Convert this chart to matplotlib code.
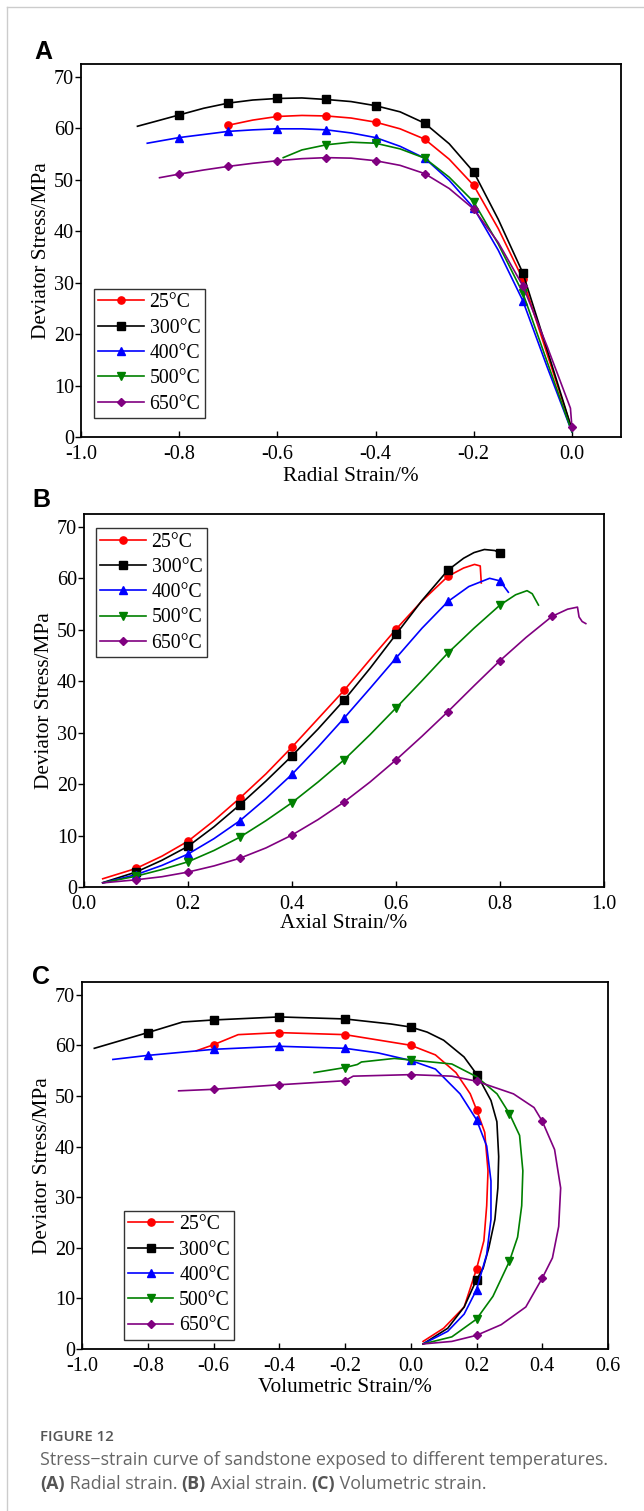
import matplotlib
matplotlib.use("Agg")
import matplotlib.pyplot as plt
from matplotlib.lines import Line2D

plt.rcParams["font.family"] = ["Liberation Serif", "DejaVu Serif"]
plt.rcParams["axes.unicode_minus"] = False

# Legend / series setup
labels = ["25\u00b0C", "300\u00b0C", "400\u00b0C", "500\u00b0C", "650\u00b0C"]
colors = ["#ff0000", "#000000", "#0000ff", "#008000", "#800080"]
markers = ["o", "s", "^", "v", "D"]

# ---- Panel A: radial strain ----
a25_x = [-0.70, -0.65, -0.60, -0.55, -0.50, -0.45, -0.40, -0.35, -0.30, -0.25, -0.20, -0.15, -0.10, -0.05, 0.00]
a25_y = [60.6, 61.6, 62.3, 62.5, 62.4, 62.0, 61.2, 59.9, 57.9, 54.0, 48.9, 40.5, 30.7, 16.0, 1.5]
a300_x = [-0.885, -0.85, -0.80, -0.75, -0.70, -0.65, -0.60, -0.55, -0.50, -0.45, -0.40, -0.35, -0.30, -0.25, -0.20, -0.15, -0.10, -0.05, 0.00]
a300_y = [60.4, 61.3, 62.6, 63.9, 64.9, 65.5, 65.8, 65.9, 65.6, 65.2, 64.4, 63.2, 61.0, 57.0, 51.5, 42.3, 31.9, 16.8, 1.5]
a400_x = [-0.865, -0.80, -0.75, -0.70, -0.65, -0.60, -0.55, -0.50, -0.45, -0.40, -0.35, -0.30, -0.25, -0.20, -0.15, -0.10, -0.05, 0.00]
a400_y = [57.1, 58.2, 58.8, 59.4, 59.7, 59.9, 59.9, 59.7, 59.1, 58.2, 56.5, 54.2, 49.9, 44.5, 36.3, 26.5, 13.5, 1.0]
a500_x = [-0.588, -0.55, -0.50, -0.45, -0.40, -0.35, -0.30, -0.25, -0.20, -0.15, -0.10, -0.05, 0.00]
a500_y = [54.3, 55.8, 56.8, 57.3, 57.1, 56.0, 54.2, 50.5, 45.7, 37.5, 28.0, 14.5, 1.0]
a650_x = [-0.84, -0.80, -0.75, -0.70, -0.65, -0.60, -0.55, -0.50, -0.45, -0.40, -0.35, -0.30, -0.25, -0.20, -0.15, -0.10, -0.05, -0.003, 0.00]
a650_y = [50.4, 51.1, 51.9, 52.6, 53.2, 53.7, 54.1, 54.3, 54.2, 53.7, 52.8, 51.2, 48.3, 44.3, 37.8, 29.4, 17.5, 5.6, 2.0]

a25_mx = [-0.7, -0.6, -0.5, -0.4, -0.3, -0.2, -0.1]
a25_my = [60.6, 62.3, 62.4, 61.2, 57.9, 48.9, 30.7]
a300_mx = [-0.8, -0.7, -0.6, -0.5, -0.4, -0.3, -0.2, -0.1]
a300_my = [62.6, 64.9, 65.8, 65.6, 64.4, 61.0, 51.5, 31.9]
a400_mx = [-0.8, -0.7, -0.6, -0.5, -0.4, -0.3, -0.2, -0.1]
a400_my = [58.2, 59.4, 59.9, 59.7, 58.2, 54.2, 44.5, 26.5]
a500_mx = [-0.5, -0.4, -0.3, -0.2, -0.1]
a500_my = [56.8, 57.1, 54.2, 45.7, 28.0]
a650_mx = [-0.8, -0.7, -0.6, -0.5, -0.4, -0.3, -0.2, -0.1, 0.0]
a650_my = [51.1, 52.6, 53.7, 54.3, 53.7, 51.2, 44.3, 29.4, 2.0]

# ---- Panel B: axial strain ----
b25_x = [0.036, 0.10, 0.15, 0.20, 0.25, 0.30, 0.35, 0.40, 0.45, 0.50, 0.55, 0.60, 0.65, 0.70, 0.73, 0.751, 0.762, 0.764]
b25_y = [1.6, 3.6, 6.0, 8.9, 12.9, 17.3, 22.0, 27.2, 32.7, 38.2, 44.2, 50.1, 55.6, 60.4, 62.0, 62.7, 62.4, 59.1]
b300_x = [0.036, 0.10, 0.15, 0.20, 0.25, 0.30, 0.35, 0.40, 0.45, 0.50, 0.55, 0.60, 0.65, 0.70, 0.73, 0.75, 0.77, 0.79, 0.80]
b300_y = [0.85, 2.9, 5.2, 7.9, 11.7, 16.0, 20.6, 25.5, 30.7, 36.3, 42.5, 49.1, 55.7, 61.6, 63.9, 65.0, 65.6, 65.4, 64.9]
b400_x = [0.036, 0.10, 0.15, 0.20, 0.25, 0.30, 0.35, 0.40, 0.45, 0.50, 0.55, 0.60, 0.65, 0.70, 0.74, 0.78, 0.80, 0.816]
b400_y = [0.8, 2.4, 4.2, 6.4, 9.4, 12.9, 17.2, 21.9, 27.2, 32.8, 38.6, 44.5, 50.3, 55.5, 58.4, 60.0, 59.5, 57.3]
b500_x = [0.036, 0.10, 0.15, 0.20, 0.25, 0.30, 0.35, 0.40, 0.45, 0.50, 0.55, 0.60, 0.65, 0.70, 0.75, 0.80, 0.83, 0.852, 0.862, 0.874]
b500_y = [0.8, 2.1, 3.4, 4.9, 7.1, 9.7, 12.9, 16.4, 20.4, 24.7, 29.6, 34.8, 40.1, 45.5, 50.3, 54.8, 56.8, 57.6, 57.0, 54.8]
b650_x = [0.036, 0.10, 0.15, 0.20, 0.25, 0.30, 0.35, 0.40, 0.45, 0.50, 0.55, 0.60, 0.65, 0.70, 0.75, 0.80, 0.85, 0.90, 0.93, 0.949, 0.952, 0.958, 0.965]
b650_y = [0.8, 1.4, 2.0, 2.9, 4.1, 5.6, 7.6, 10.1, 13.1, 16.5, 20.4, 24.7, 29.3, 34.1, 39.1, 44.0, 48.5, 52.6, 54.0, 54.4, 52.5, 51.6, 51.2]

b25_mx = [0.1, 0.2, 0.3, 0.4, 0.5, 0.6, 0.7]
b25_my = [3.6, 8.9, 17.3, 27.2, 38.2, 50.1, 60.4]
b300_mx = [0.1, 0.2, 0.3, 0.4, 0.5, 0.6, 0.7, 0.8]
b300_my = [2.9, 7.9, 16.0, 25.5, 36.3, 49.1, 61.6, 64.9]
b400_mx = [0.1, 0.2, 0.3, 0.4, 0.5, 0.6, 0.7, 0.8]
b400_my = [2.4, 6.4, 12.9, 21.9, 32.8, 44.5, 55.5, 59.5]
b500_mx = [0.1, 0.2, 0.3, 0.4, 0.5, 0.6, 0.7, 0.8]
b500_my = [2.1, 4.9, 9.7, 16.4, 24.7, 34.8, 45.5, 54.8]
b650_mx = [0.1, 0.2, 0.3, 0.4, 0.5, 0.6, 0.7, 0.8, 0.9]
b650_my = [1.4, 2.9, 5.6, 10.1, 16.5, 24.7, 34.1, 44.0, 52.6]

# ---- Panel C: volumetric strain ----
c25_x = [-0.6525, -0.60, -0.525, -0.40, -0.20, 0.00, 0.075, 0.1375, 0.181, 0.20, 0.225, 0.235, 0.231, 0.2225, 0.20, 0.1625, 0.10, 0.0375]
c25_y = [58.9, 60.1, 62.1, 62.5, 62.1, 60.0, 58.1, 54.6, 50.4, 47.3, 42.8, 35.2, 28.3, 21.4, 15.8, 8.3, 4.1, 1.5]
c300_x = [-0.9625, -0.80, -0.694, -0.60, -0.40, -0.20, -0.06, 0.00, 0.05, 0.10, 0.162, 0.2025, 0.244, 0.262, 0.2675, 0.265, 0.256, 0.2375, 0.22, 0.20, 0.1625, 0.1125, 0.0375]
c300_y = [59.4, 62.5, 64.6, 65.0, 65.6, 65.2, 64.2, 63.6, 62.6, 61.0, 57.7, 54.1, 49.1, 44.9, 38.0, 31.8, 25.6, 20.0, 15.9, 13.7, 8.3, 4.1, 1.0]
c400_x = [-0.906, -0.80, -0.60, -0.40, -0.20, -0.10, 0.00, 0.075, 0.15, 0.20, 0.231, 0.244, 0.244, 0.231, 0.20, 0.1625, 0.1125, 0.0375]
c400_y = [57.2, 58.0, 59.2, 59.8, 59.4, 58.5, 57.0, 55.3, 50.4, 45.3, 40.1, 33.2, 25.6, 18.7, 11.7, 6.9, 3.5, 1.0]
c500_x = [-0.294, -0.20, -0.1625, -0.15, -0.05, 0.00, 0.125, 0.20, 0.2625, 0.30, 0.331, 0.341, 0.3375, 0.325, 0.30, 0.25, 0.20, 0.125, 0.0375]
c500_y = [54.6, 55.6, 56.2, 56.7, 57.4, 57.1, 56.3, 53.8, 50.4, 46.5, 42.2, 35.2, 28.3, 22.1, 17.3, 10.4, 5.9, 2.4, 1.0]
c650_x = [-0.706, -0.60, -0.40, -0.20, -0.175, 0.00, 0.125, 0.20, 0.3125, 0.375, 0.40, 0.4375, 0.456, 0.45, 0.431, 0.40, 0.35, 0.275, 0.20, 0.125, 0.0375]
c650_y = [51.0, 51.3, 52.2, 53.0, 53.9, 54.2, 53.9, 52.9, 50.4, 47.7, 45.0, 39.4, 31.8, 24.2, 18.0, 14.0, 8.3, 4.8, 2.7, 1.5, 1.0]

c25_mx = [-0.6, -0.4, -0.2, 0.0, 0.2, 0.2]
c25_my = [60.1, 62.5, 62.1, 60.0, 47.3, 15.8]
c300_mx = [-0.8, -0.6, -0.4, -0.2, 0.0, 0.2, 0.2]
c300_my = [62.5, 65.0, 65.6, 65.2, 63.6, 54.1, 13.7]
c400_mx = [-0.8, -0.6, -0.4, -0.2, 0.0, 0.2, 0.2]
c400_my = [58.0, 59.2, 59.8, 59.4, 57.0, 45.3, 11.7]
c500_mx = [-0.2, 0.0, 0.3, 0.3, 0.2]
c500_my = [55.6, 57.1, 46.5, 17.3, 5.9]
c650_mx = [-0.6, -0.4, -0.2, 0.0, 0.2, 0.4, 0.4, 0.2]
c650_my = [51.3, 52.2, 53.0, 54.2, 52.9, 45.0, 14.0, 2.7]

W, H = 644, 1511
fig = plt.figure(figsize=(W / 100, H / 100), dpi=100)


def box(l, t, r, b):
    # pixel box -> figure fraction
    return [l / W, 1 - b / H, (r - l) / W, (b - t) / H]


def draw_panel(rect, curves, marks, xlim, xticks, xlabel, xlabelpad, letter, letter_xy, leg_anchor, leg_loc):
    ax = fig.add_axes(rect)
    for (cx, cy), (mx, my), c, m in zip(curves, marks, colors, markers):
        ax.plot(cx, cy, color=c, lw=1.2)
        ax.plot(mx, my, ls="none", marker=m, color=c, ms=5.2 if m != "D" else 4.3)
    ax.set_xlim(*xlim)
    ax.set_ylim(0, 72.5)
    ax.set_xticks(xticks)
    ax.set_xticklabels([f"{v:.1f}" for v in xticks])
    ax.set_yticks(range(0, 71, 10))
    ax.tick_params(axis="x", direction="in", length=4, width=1, labelsize=14.5, pad=6)
    ax.tick_params(axis="y", direction="out", length=4, width=1, labelsize=14.5, pad=1)
    for s in ax.spines.values():
        s.set_linewidth(1.3)
    ax.set_xlabel(xlabel, fontsize=15.3, labelpad=xlabelpad)
    ax.set_ylabel("Deviator Stress/MPa", fontsize=15.3, labelpad=2)
    handles = [Line2D([], [], color=c, lw=1.2, marker=m, ms=5.2 if m != "D" else 4.3)
               for c, m in zip(colors, markers)]
    leg = ax.legend(handles, labels, loc=leg_loc, bbox_to_anchor=leg_anchor, borderaxespad=0,
                    fontsize=14.2, handlelength=2.3, handletextpad=0.3, labelspacing=0.32,
                    borderpad=0.22, fancybox=False, framealpha=1, edgecolor="#333333")
    leg.get_frame().set_linewidth(1.0)
    fig.text(letter_xy[0] / W, 1 - letter_xy[1] / H, letter, fontsize=18, fontweight="bold",
             family=["Liberation Sans", "DejaVu Sans"], ha="center", va="center")
    return ax


draw_panel(box(81, 64, 621, 437),
           [(a25_x, a25_y), (a300_x, a300_y), (a400_x, a400_y), (a500_x, a500_y), (a650_x, a650_y)],
           [(a25_mx, a25_my), (a300_mx, a300_my), (a400_mx, a400_my), (a500_mx, a500_my), (a650_mx, a650_my)],
           (-1.0, 0.1), [-1.0, -0.8, -0.6, -0.4, -0.2, 0.0], "Radial Strain/%", 2,
           "A", (43, 52), (0.024, 0.051), "lower left")

draw_panel(box(84, 514, 604, 887),
           [(b25_x, b25_y), (b300_x, b300_y), (b400_x, b400_y), (b500_x, b500_y), (b650_x, b650_y)],
           [(b25_mx, b25_my), (b300_mx, b300_my), (b400_mx, b400_my), (b500_mx, b500_my), (b650_mx, b650_my)],
           (0.0, 1.0), [0.0, 0.2, 0.4, 0.6, 0.8, 1.0], "Axial Strain/%", 0,
           "B", (41, 500), (0.023, 0.962), "upper left")

draw_panel(box(82, 982, 608, 1349),
           [(c25_x, c25_y), (c300_x, c300_y), (c400_x, c400_y), (c500_x, c500_y), (c650_x, c650_y)],
           [(c25_mx, c25_my), (c300_mx, c300_my), (c400_mx, c400_my), (c500_mx, c500_my), (c650_mx, c650_my)],
           (-1.0, 0.6), [-1.0, -0.8, -0.6, -0.4, -0.2, 0.0, 0.2, 0.4, 0.6], "Volumetric Strain/%", 1,
           "C", (41, 977), (0.079, 0.025), "lower left")

# thin page border (left and top)
fig.add_artist(Line2D([7 / W, 7 / W], [0, 1 - 7 / H], color="#cccccc", lw=1))
fig.add_artist(Line2D([7 / W, 1], [1 - 7 / H, 1 - 7 / H], color="#cccccc", lw=1))

# caption
cap_font = ["Open Sans", "DejaVu Sans"]
fig.text(40 / W, 1 - 1437 / H, "FIGURE 12", fontsize=10.8, fontweight="semibold",
         color="#555555", family=cap_font, va="center")
fig.text(40 / W, 1 - 1460 / H, "Stress\u2212strain curve of sandstone exposed to different temperatures.",
         fontsize=12.9, color="#666666", family=cap_font, va="center")

renderer = fig.canvas.get_renderer()
x = 40
for txt, bold in [("(A)", True), (" Radial strain. ", False), ("(B)", True), (" Axial strain. ", False),
                  ("(C)", True), (" Volumetric strain.", False)]:
    t = fig.text(x / W, 1 - 1484 / H, txt, fontsize=12.9, family=cap_font, va="center",
                 fontweight="bold" if bold else "normal", color="#555555" if bold else "#666666")
    x += t.get_window_extent(renderer).width

fig.savefig("out.png", dpi=100)
